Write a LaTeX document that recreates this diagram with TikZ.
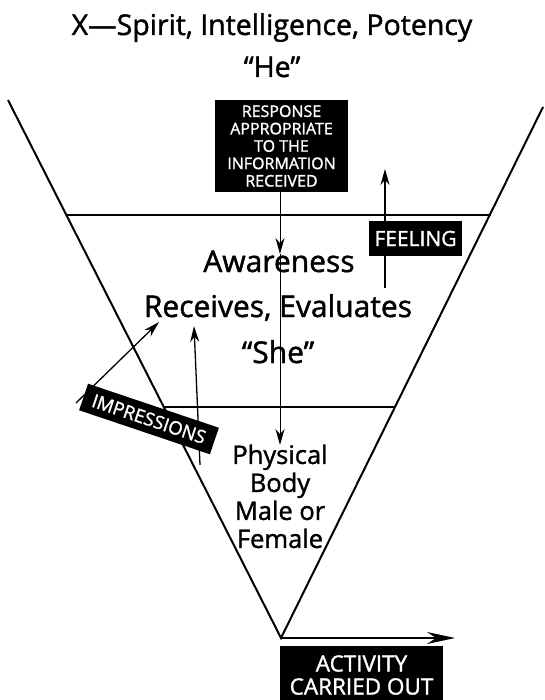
\documentclass[tikz,border=0pt]{standalone}
\usepackage{fontspec}
\setmainfont{Open Sans}[FakeBold=1.4]
\usetikzlibrary{arrows.meta}

\begin{document}
\begin{tikzpicture}[
  x=1pt, y=-1pt, >={Stealth[length=16pt,width=9pt]},
  heading/.style={anchor=base, font=\fontsize{28.5}{30}\selectfont},
  words/.style={anchor=base, font=\fontsize{30}{28}\selectfont},
  tag/.style={fill=black, text=white, align=center, inner sep=0pt},
  edge/.style={line width=2pt},
  flow/.style={line width=1.3pt}
]
  \useasboundingbox (0,0) rectangle (544,700);
  % funnel
  \coordinate (apex) at (281,638);
  \coordinate (topL) at (8,100);
  \coordinate (topR) at (543,107);
  \draw[edge] (topL) -- (apex) -- (topR);
  \draw[edge] (67,215) -- (491,215);
  \draw[edge] (163,407) -- (395,407);

  \node[heading] (title) at (272,35) {X---Spirit, Intelligence, Potency};
  \node[heading] (he) at (272,77) {``He''};

  \node[words] (aware) at (279,272) {Awareness};
  \node[words] (evals) at (278,317) {Receives, Evaluates};
  \node[words] (she) at (278,363) {``She''};
  \node[words, align=center, font=\fontsize{25.5}{28}\selectfont, anchor=north] (body) at (280,441)
    {Physical\\Body\\Male or\\Female};

  % response going down
  \node[tag, minimum width=133pt, minimum height=92pt, font=\fontsize{16}{17.4}\selectfont] (response) at (281.5,146)
    {RESPONSE\\APPROPRIATE\\TO THE\\INFORMATION\\RECEIVED};
  \coordinate (mid) at (280,254);
  \coordinate (low) at (280,445);
  \draw[line width=1pt, ->] (response.south -| mid) -- (mid);
  \draw[line width=1pt, ->] (mid) -- (low);

  % feeling going up
  \coordinate (fbase) at (385,288);
  \coordinate (ftip) at (385,169);
  \draw[flow, ->] (fbase) -- (ftip);
  \node[tag, minimum width=93pt, minimum height=35pt, font=\fontsize{21}{24}\selectfont] (feeling) at (415.5,238.5) {FEELING};

  % impressions coming in
  \coordinate (ibase) at (76,403);
  \coordinate (itip) at (159,322);
  \coordinate (rbase) at (200,465);
  \coordinate (rtip) at (194,326);
  \draw[flow, ->] (ibase) -- (itip);
  \draw[flow, ->] (rbase) -- (rtip);
  \node[tag, rotate=-18.6, minimum width=138pt, minimum height=28pt, font=\fontsize{18.5}{20}\selectfont] (impress) at (149,419) {IMPRESSIONS};

  % activity going out
  \coordinate (out) at (455,638);
  \draw[edge, -{Stealth[length=28pt,width=12pt]}] (apex) -- (out);
  \node[tag, minimum width=163pt, minimum height=58pt, font=\fontsize{22.5}{23}\selectfont] (activity) at (361.5,675)
    {ACTIVITY\\CARRIED OUT};
\end{tikzpicture}
\end{document}
